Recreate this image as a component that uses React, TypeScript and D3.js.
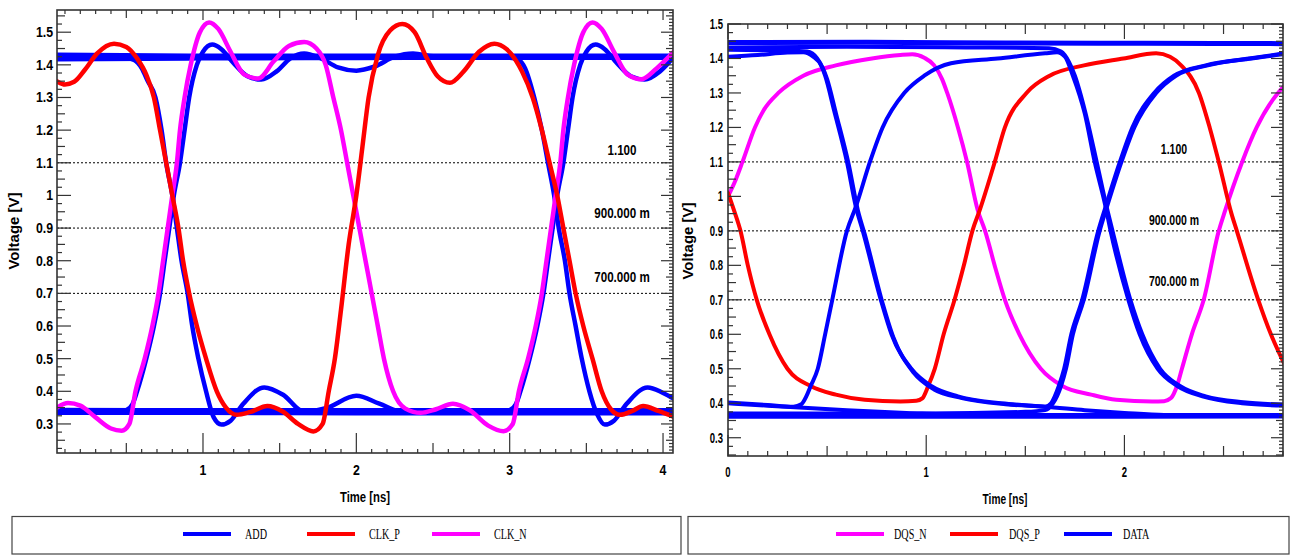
import React from "react";
import * as d3 from "d3";

type P = [number, number];

// ---------- shared labels ----------
const yTickValues = [0.3, 0.4, 0.5, 0.6, 0.7, 0.8, 0.9, 1.0, 1.1, 1.2, 1.3, 1.4, 1.5];
const yTickLabels = ["0.3", "0.4", "0.5", "0.6", "0.7", "0.8", "0.9", "1", "1.1", "1.2", "1.3", "1.4", "1.5"];
const refLevels = [1.1, 0.9, 0.7];
const refLabels = ["1.100", "900.000 m", "700.000 m"];

// ---------- left chart ----------
const leftXTickValues = [1, 2, 3, 4];
const leftXTickLabels = ["1", "2", "3", "4"];
const leftLegend = ["ADD", "CLK_P", "CLK_N"];

const addHigh: P[] = [[0.04, 1.417], [1, 1.42], [2, 1.421], [3, 1.422], [4.08, 1.422]];
const addHigh2: P[] = [[0.04, 1.431], [1, 1.428], [2, 1.428], [4.08, 1.428]];
const addLow: P[] = [[0.04, 0.334], [1, 0.334], [2, 0.333], [4.08, 0.333]];
const addLow2: P[] = [[0.04, 0.343], [1, 0.342], [2, 0.342], [4.08, 0.342]];
const addRise: P[] = [
  [0.04, 0.338], [0.45, 0.338], [0.5, 0.342], [0.54, 0.36], [0.57, 0.4], [0.63, 0.5], [0.68, 0.6], [0.72, 0.7],
  [0.75, 0.8], [0.78, 0.9], [0.81, 1.0], [0.85, 1.1], [0.88, 1.2], [0.91, 1.3], [0.96, 1.4], [1.0, 1.44],
  [1.06, 1.462], [1.12, 1.448], [1.2, 1.405], [1.29, 1.365], [1.38, 1.355], [1.48, 1.38], [1.57, 1.42],
  [1.66, 1.435], [1.76, 1.422], [1.88, 1.392], [2.0, 1.382], [2.12, 1.395], [2.25, 1.425], [2.37, 1.435],
  [2.5, 1.426], [2.7, 1.422], [3.0, 1.422], [3.06, 1.415], [3.1, 1.39], [3.16, 1.3], [3.21, 1.2], [3.25, 1.1],
  [3.29, 1.0], [3.32, 0.9], [3.36, 0.8], [3.39, 0.7], [3.43, 0.6], [3.47, 0.5], [3.52, 0.4], [3.57, 0.33],
  [3.62, 0.298], [3.68, 0.31], [3.76, 0.36], [3.9, 0.412], [4.0, 0.395], [4.08, 0.375],
];
const addFall: P[] = [
  [0.04, 1.42], [0.5, 1.42], [0.55, 1.415], [0.6, 1.39], [0.64, 1.35], [0.69, 1.3], [0.73, 1.2], [0.76, 1.1],
  [0.8, 1.0], [0.83, 0.9], [0.86, 0.8], [0.9, 0.7], [0.93, 0.6], [0.97, 0.5], [1.02, 0.4], [1.07, 0.32],
  [1.12, 0.298], [1.18, 0.31], [1.26, 0.36], [1.4, 0.412], [1.52, 0.39], [1.66, 0.337], [1.8, 0.348],
  [2.0, 0.386], [2.15, 0.362], [2.3, 0.337], [2.5, 0.338], [2.95, 0.338], [3.0, 0.342], [3.04, 0.36],
  [3.07, 0.4], [3.13, 0.5], [3.18, 0.6], [3.22, 0.7], [3.25, 0.8], [3.28, 0.9], [3.31, 1.0], [3.35, 1.1],
  [3.38, 1.2], [3.41, 1.3], [3.46, 1.4], [3.5, 1.44], [3.56, 1.462], [3.62, 1.448], [3.7, 1.405],
  [3.79, 1.365], [3.88, 1.355], [3.98, 1.38], [4.08, 1.43],
];
const clkN: P[] = [
  [0.04, 0.348], [0.12, 0.364], [0.2, 0.356], [0.3, 0.32], [0.4, 0.286], [0.47, 0.279], [0.52, 0.3],
  [0.56, 0.4], [0.62, 0.5], [0.67, 0.6], [0.71, 0.7], [0.74, 0.8], [0.77, 0.9], [0.8, 1.0], [0.83, 1.1],
  [0.85, 1.2], [0.88, 1.3], [0.92, 1.4], [0.98, 1.5], [1.04, 1.53], [1.1, 1.51], [1.18, 1.44], [1.27, 1.37],
  [1.36, 1.358], [1.46, 1.41], [1.56, 1.458], [1.66, 1.47], [1.74, 1.45], [1.8, 1.4], [1.85, 1.3],
  [1.9, 1.2], [1.94, 1.1], [1.98, 1.0], [2.02, 0.9], [2.06, 0.8], [2.1, 0.7], [2.14, 0.6], [2.18, 0.5],
  [2.24, 0.4], [2.32, 0.347], [2.42, 0.334], [2.52, 0.345], [2.63, 0.362], [2.74, 0.342], [2.86, 0.295],
  [2.96, 0.278], [3.02, 0.3], [3.06, 0.4], [3.12, 0.5], [3.17, 0.6], [3.21, 0.7], [3.24, 0.8], [3.27, 0.9],
  [3.3, 1.0], [3.33, 1.1], [3.35, 1.2], [3.38, 1.3], [3.42, 1.4], [3.48, 1.5], [3.54, 1.53], [3.6, 1.51],
  [3.68, 1.44], [3.77, 1.37], [3.86, 1.356], [3.96, 1.39], [4.08, 1.445],
];
const clkP: P[] = [
  [0.04, 1.352], [0.1, 1.34], [0.16, 1.348], [0.23, 1.385], [0.31, 1.435], [0.42, 1.465], [0.5, 1.455],
  [0.57, 1.42], [0.63, 1.37], [0.68, 1.3], [0.72, 1.2], [0.76, 1.1], [0.8, 1.0], [0.84, 0.9], [0.87, 0.8],
  [0.91, 0.7], [0.96, 0.6], [1.02, 0.5], [1.09, 0.4], [1.15, 0.35], [1.22, 0.328], [1.31, 0.337],
  [1.42, 0.355], [1.52, 0.338], [1.62, 0.3], [1.72, 0.277], [1.78, 0.3], [1.82, 0.4], [1.86, 0.5],
  [1.9, 0.65], [1.95, 0.85], [2.0, 1.0], [2.04, 1.15], [2.08, 1.3], [2.14, 1.43], [2.22, 1.505],
  [2.3, 1.525], [2.38, 1.5], [2.46, 1.42], [2.53, 1.365], [2.61, 1.345], [2.7, 1.38], [2.8, 1.44],
  [2.9, 1.465], [2.98, 1.448], [3.08, 1.38], [3.15, 1.3], [3.21, 1.2], [3.26, 1.1], [3.31, 1.0],
  [3.35, 0.9], [3.39, 0.8], [3.43, 0.7], [3.48, 0.6], [3.54, 0.5], [3.6, 0.4], [3.66, 0.345],
  [3.72, 0.328], [3.8, 0.34], [3.87, 0.355], [3.97, 0.34], [4.08, 0.32],
];

// ---------- right chart ----------
const rightXTickValues = [0, 1, 2];
const rightXTickLabels = ["0", "1", "2"];
const rightLegend = ["DQS_N", "DQS_P", "DATA"];

const dqsN: P[] = [
  [0, 1.0], [0.04, 1.05], [0.073, 1.1], [0.136, 1.2], [0.18, 1.25], [0.254, 1.3], [0.38, 1.35],
  [0.544, 1.38], [0.726, 1.4], [0.87, 1.41], [0.93, 1.412], [0.99, 1.402], [1.04, 1.38], [1.08, 1.34],
  [1.106, 1.3], [1.16, 1.2], [1.206, 1.1], [1.26, 0.96], [1.297, 0.9], [1.35, 0.79], [1.397, 0.7],
  [1.47, 0.6], [1.578, 0.5], [1.687, 0.45], [1.832, 0.425], [1.959, 0.41], [2.14, 0.405], [2.2, 0.406],
  [2.235, 0.415], [2.265, 0.45], [2.29, 0.5], [2.34, 0.6], [2.4, 0.7], [2.476, 0.9], [2.503, 0.95],
  [2.594, 1.1], [2.667, 1.2], [2.775, 1.3], [2.81, 1.322],
];
const dqsP: P[] = [
  [0, 1.01], [0.03, 0.96], [0.063, 0.9], [0.1, 0.8], [0.145, 0.7], [0.209, 0.6], [0.3, 0.5],
  [0.417, 0.45], [0.544, 0.425], [0.69, 0.41], [0.87, 0.405], [0.95, 0.407], [0.98, 0.414], [1.01, 0.45],
  [1.043, 0.5], [1.088, 0.6], [1.143, 0.7], [1.19, 0.8], [1.233, 0.9], [1.27, 0.96], [1.346, 1.1],
  [1.397, 1.2], [1.506, 1.3], [1.623, 1.35], [1.796, 1.38], [1.995, 1.4], [2.16, 1.415], [2.23, 1.405],
  [2.286, 1.38], [2.376, 1.3], [2.43, 1.2], [2.476, 1.1], [2.54, 0.95], [2.567, 0.9], [2.675, 0.7],
  [2.739, 0.6], [2.81, 0.51],
];
const dataHighA: P[] = [[0, 1.446], [0.7, 1.447], [1.4, 1.445], [2.1, 1.444], [2.81, 1.443]];
const dataHighB: P[] = [
  [0, 1.432], [0.6, 1.434], [1.2, 1.432], [1.62, 1.43], [1.68, 1.42], [1.72, 1.39], [1.75, 1.35],
  [1.8, 1.25], [1.86, 1.1], [1.91, 0.97], [1.94, 0.9], [2.03, 0.7], [2.09, 0.6], [2.18, 0.5], [2.28, 0.45],
  [2.41, 0.42], [2.6, 0.403], [2.81, 0.396],
];
const dataA: P[] = [
  [0, 1.405], [0.15, 1.41], [0.3, 1.417], [0.38, 1.418], [0.43, 1.405], [0.47, 1.38], [0.49, 1.35],
  [0.535, 1.25], [0.6, 1.1], [0.645, 0.97], [0.68, 0.9], [0.771, 0.7], [0.825, 0.6], [0.925, 0.5],
  [1.025, 0.45], [1.16, 0.42], [1.38, 0.4], [1.55, 0.392], [1.6, 0.39], [1.63, 0.4], [1.669, 0.45],
  [1.696, 0.5], [1.732, 0.6], [1.787, 0.7], [1.868, 0.9], [1.905, 0.97], [1.977, 1.1], [2.04, 1.2],
  [2.15, 1.3], [2.25, 1.35], [2.41, 1.38], [2.63, 1.4], [2.81, 1.415],
];
const dataB: P[] = [
  [0, 0.402], [0.2, 0.395], [0.33, 0.39], [0.37, 0.397], [0.395, 0.42], [0.417, 0.45], [0.453, 0.5],
  [0.49, 0.6], [0.526, 0.7], [0.6, 0.9], [0.645, 0.97], [0.716, 1.1], [0.78, 1.2], [0.889, 1.3],
  [0.99, 1.35], [1.125, 1.386], [1.36, 1.4], [1.6, 1.415], [1.66, 1.418], [1.7, 1.405], [1.74, 1.35],
  [1.8, 1.24], [1.85, 1.1], [1.905, 0.97], [1.93, 0.9], [2.02, 0.7], [2.077, 0.6], [2.168, 0.5],
  [2.267, 0.45], [2.394, 0.42], [2.594, 0.4], [2.81, 0.393],
];
const dataC: P[] = [
  [0, 1.425], [0.3, 1.423], [0.4, 1.42], [0.45, 1.4], [0.5, 1.34], [0.545, 1.24], [0.61, 1.09],
  [0.655, 0.96], [0.69, 0.89], [0.78, 0.69], [0.835, 0.59], [0.935, 0.49], [1.04, 0.44], [1.18, 0.415],
  [1.4, 0.397], [1.6, 0.39], [1.8, 0.38], [2.0, 0.372], [2.2, 0.366], [2.81, 0.365],
];
const dataD: P[] = [
  [0, 0.37], [1.0, 0.37], [1.5, 0.375], [1.6, 0.38], [1.64, 0.4], [1.68, 0.45], [1.705, 0.5],
  [1.74, 0.6], [1.795, 0.7], [1.875, 0.9], [1.912, 0.97], [1.985, 1.1], [2.05, 1.2], [2.16, 1.3],
  [2.26, 1.35], [2.42, 1.38], [2.64, 1.4], [2.81, 1.413],
];
const dataLowA: P[] = [[0, 0.362], [1.4, 0.362], [2.81, 0.363]];
const dataLowB: P[] = [
  [0, 0.4], [0.2, 0.393], [0.36, 0.388], [0.6, 0.38], [0.9, 0.372], [1.2, 0.366], [2.81, 0.366],
];

// ---------- rendering ----------
const SANS = "'Liberation Sans', Arial, Helvetica, sans-serif";
const SERIF = "'Liberation Serif', 'Times New Roman', serif";
const BLUE = "#0000ff";
const RED = "#ff0000";
const MAGENTA = "#ff00ff";

function SText(props: {
  x: number; y: number; sx?: number; anchor?: string; size?: number; weight?: string | number;
  family?: string; fill?: string; rotate?: number; children: React.ReactNode;
}) {
  const { x, y, sx = 1, anchor = "middle", size = 13, weight = "bold", family = SANS, fill = "#000", rotate = 0 } = props;
  const tr = rotate ? `translate(${x},${y}) rotate(${rotate}) scale(${sx},1)` : `translate(${x},${y}) scale(${sx},1)`;
  return (
    <g transform={tr}>
      <text x={0} y={0} textAnchor={anchor as any} fontSize={size} fontWeight={weight as any} fontFamily={family} fill={fill}>
        {props.children}
      </text>
    </g>
  );
}

type Cfg = {
  id: string; x0: number; x1: number; y0: number; y1: number; xd: [number, number]; yd: [number, number];
  xTicks: number[]; xLabels: string[]; tickSx: number; yLabelX: number; xLabelY: number;
  refX: number; refOffsets: number[]; refSx: number;
  xTitleX: number; xTitleY: number; xTitleSx: number; yTitleX: number; yTitleY: number;
  leftMinorStep: number; rightMinorStep: number; bottomLens: number[]; topLens: number[];
  leftLens: number[]; rightLens: number[];
};

type Series = { data: P[]; color: string; width: number };

function Chart({ cfg, series }: { cfg: Cfg; series: Series[] }) {
  const xs = d3.scaleLinear().domain(cfg.xd).range([cfg.x0, cfg.x1]);
  const ys = d3.scaleLinear().domain(cfg.yd).range([cfg.y1, cfg.y0]);
  const line = d3.line<P>().x((d) => xs(d[0])).y((d) => ys(d[1])).curve(d3.curveMonotoneX);

  const ticks: JSX.Element[] = [];
  for (let i = Math.ceil(cfg.xd[0] * 10 - 1e-6); i <= Math.floor(cfg.xd[1] * 10 + 1e-6); i++) {
    const x = xs(i / 10);
    const k = i % 10 === 0 ? 0 : i % 5 === 0 ? 1 : 2;
    ticks.push(<line key={`xb${i}`} x1={x} x2={x} y1={cfg.y1} y2={cfg.y1 - cfg.bottomLens[k]} />);
    ticks.push(<line key={`xt${i}`} x1={x} x2={x} y1={cfg.y0} y2={cfg.y0 + cfg.topLens[k]} />);
  }
  const ls = cfg.leftMinorStep;
  for (let j = Math.ceil(cfg.yd[0] / ls - 1e-6); j <= Math.floor(cfg.yd[1] / ls + 1e-6); j++) {
    const v = +(j * ls).toFixed(4);
    const r10 = Math.abs(v * 10 - Math.round(v * 10)) < 1e-6;
    const r20 = Math.abs(v * 20 - Math.round(v * 20)) < 1e-6;
    const k = r10 ? 0 : r20 ? 1 : 2;
    const y = ys(v);
    ticks.push(<line key={`yl${j}`} x1={cfg.x0} x2={cfg.x0 + cfg.leftLens[k]} y1={y} y2={y} />);
  }
  const rs = cfg.rightMinorStep;
  for (let j = Math.ceil(cfg.yd[0] / rs - 1e-6); j <= Math.floor(cfg.yd[1] / rs + 1e-6); j++) {
    const v = +(j * rs).toFixed(4);
    const r10 = Math.abs(v * 10 - Math.round(v * 10)) < 1e-6;
    const r20 = Math.abs(v * 20 - Math.round(v * 20)) < 1e-6;
    const k = r10 ? 0 : r20 ? 1 : 2;
    const y = ys(v);
    ticks.push(<line key={`yr${j}`} x1={cfg.x1} x2={cfg.x1 - cfg.rightLens[k]} y1={y} y2={y} />);
  }

  const clipId = `clip-${cfg.id}`;
  return (
    <g>
      <defs>
        <clipPath id={clipId}>
          <rect x={cfg.x0} y={cfg.y0} width={cfg.x1 - cfg.x0} height={cfg.y1 - cfg.y0} />
        </clipPath>
      </defs>
      {refLevels.map((lv) => (
        <line key={`ref${lv}`} x1={cfg.x0} x2={cfg.x1} y1={ys(lv)} y2={ys(lv)} stroke="#000" strokeWidth={1} strokeDasharray="2,2" />
      ))}
      <g clipPath={`url(#${clipId})`} fill="none" strokeLinejoin="round" strokeLinecap="round">
        {series.map((s, i) => (
          <path key={i} d={line(s.data) || ""} stroke={s.color} strokeWidth={s.width} />
        ))}
      </g>
      {refLevels.map((lv, i) => (
        <SText key={`rl${lv}`} x={cfg.refX} y={ys(lv) - cfg.refOffsets[i]} sx={cfg.refSx} size={14}>
          {refLabels[i]}
        </SText>
      ))}
      <g stroke="#333" strokeWidth={1.2}>{ticks}</g>
      <rect x={cfg.x0} y={cfg.y0} width={cfg.x1 - cfg.x0} height={cfg.y1 - cfg.y0} fill="none" stroke="#333" strokeWidth={1.6} />
      {yTickValues.map((v, i) => (
        <SText key={`yt${i}`} x={cfg.yLabelX} y={ys(v) + 5} sx={cfg.tickSx} anchor="end" size={14}>
          {yTickLabels[i]}
        </SText>
      ))}
      {cfg.xTicks.map((v, i) => (
        <SText key={`xt${i}`} x={xs(v)} y={cfg.xLabelY} sx={cfg.tickSx} size={14}>
          {cfg.xLabels[i]}
        </SText>
      ))}
      <SText x={cfg.xTitleX} y={cfg.xTitleY} sx={cfg.xTitleSx} size={14.5}>Time [ns]</SText>
      <SText x={cfg.yTitleX} y={cfg.yTitleY} rotate={-90} size={15}>Voltage [V]</SText>
    </g>
  );
}

function Legend({ x, w, names, colors, lineXs, textXs }: {
  x: number; w: number; names: string[]; colors: string[]; lineXs: number[]; textXs: number[];
}) {
  return (
    <g>
      <rect x={x} y={516.5} width={w} height={37.5} fill="#fff" stroke="#444" strokeWidth={1.2} />
      {names.map((n, i) => (
        <g key={n}>
          <line x1={lineXs[i]} x2={lineXs[i] + 48} y1={534} y2={534} stroke={colors[i]} strokeWidth={4} />
          <SText x={textXs[i]} y={539} anchor="start" sx={0.7} size={14.5} weight="normal" family={SERIF}>
            {n}
          </SText>
        </g>
      ))}
    </g>
  );
}

const leftCfg: Cfg = {
  id: "L", x0: 57, x1: 673, y0: 10, y1: 453, xd: [0.048, 4.065], yd: [0.211, 1.568],
  xTicks: leftXTickValues, xLabels: leftXTickLabels, tickSx: 0.88, yLabelX: 53, xLabelY: 475,
  refX: 622, refOffsets: [8, 10, 11.5], refSx: 0.83,
  xTitleX: 365, xTitleY: 502, xTitleSx: 0.78, yTitleX: 18.5, yTitleY: 231,
  leftMinorStep: 0.025, rightMinorStep: 0.01,
  bottomLens: [20, 10, 4], topLens: [10, 8, 4], leftLens: [14, 8, 5], rightLens: [12, 7, 4],
};
const rightCfg: Cfg = {
  id: "R", x0: 728, x1: 1283, y0: 24, y1: 456, xd: [0, 2.8], yd: [0.247, 1.5],
  xTicks: rightXTickValues, xLabels: rightXTickLabels, tickSx: 0.68, yLabelX: 723, xLabelY: 477,
  refX: 1174, refOffsets: [7.5, 6, 13.5], refSx: 0.75,
  xTitleX: 1005, xTitleY: 504, xTitleSx: 0.7, yTitleX: 693, yTitleY: 241,
  leftMinorStep: 0.025, rightMinorStep: 0.01,
  bottomLens: [21, 10, 5], topLens: [15, 10, 5], leftLens: [13, 8, 5], rightLens: [12, 7, 4],
};

export default function App() {
  const lw = 4.5;
  const rw = 4;
  const leftSeries: Series[] = [
    { data: addHigh, color: BLUE, width: lw },
    { data: addHigh2, color: BLUE, width: lw },
    { data: addLow, color: BLUE, width: lw },
    { data: addLow2, color: BLUE, width: lw },
    { data: addRise, color: BLUE, width: lw },
    { data: addFall, color: BLUE, width: lw },
    { data: clkN, color: MAGENTA, width: lw },
    { data: clkP, color: RED, width: lw },
  ];
  const rightSeries: Series[] = [
    { data: dqsN, color: MAGENTA, width: rw },
    { data: dqsP, color: RED, width: rw },
    { data: dataLowA, color: BLUE, width: rw + 1 },
    { data: dataLowB, color: BLUE, width: rw },
    { data: dataHighA, color: BLUE, width: rw + 1 },
    { data: dataHighB, color: BLUE, width: rw },
    { data: dataA, color: BLUE, width: rw },
    { data: dataB, color: BLUE, width: rw },
    { data: dataC, color: BLUE, width: rw },
    { data: dataD, color: BLUE, width: rw },
  ];
  return (
    <svg width={1291} height={556} style={{ position: "absolute", left: 0, top: 0, display: "block" }}>
      <rect x={0} y={0} width={1291} height={556} fill="#fff" />
      <Chart cfg={leftCfg} series={leftSeries} />
      <Chart cfg={rightCfg} series={rightSeries} />
      <Legend x={12} w={669} names={leftLegend} colors={[BLUE, RED, MAGENTA]} lineXs={[183, 307, 432]} textXs={[245, 369, 494]} />
      <Legend x={688} w={601} names={rightLegend} colors={[MAGENTA, RED, BLUE]} lineXs={[836, 950, 1064]} textXs={[894, 1009, 1123]} />
    </svg>
  );
}
